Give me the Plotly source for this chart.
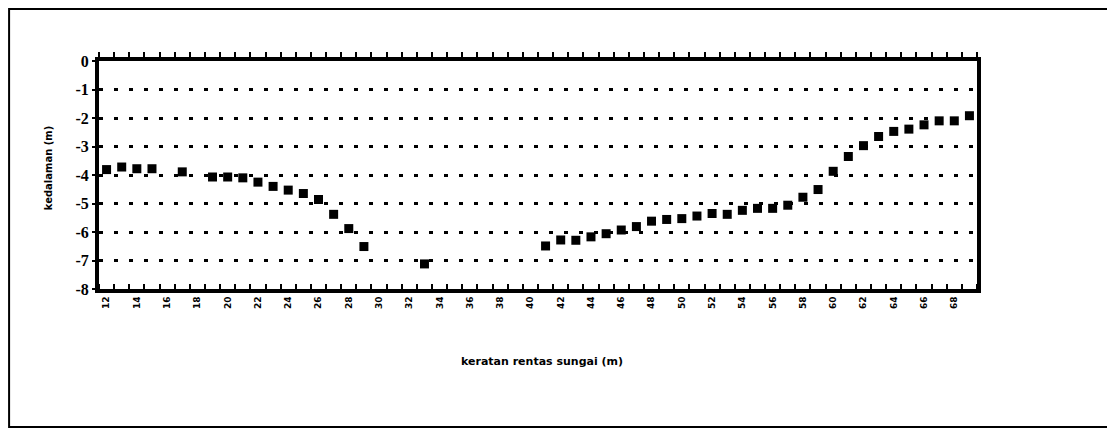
import plotly.graph_objects as go

# Cross-section distance (m) and depth (m)
jarak = [12, 13, 14, 15, 17, 19, 20, 21, 22, 23, 24, 25, 26, 27, 28, 29, 33,
         41, 42, 43, 44, 45, 46, 47, 48, 49, 50, 51, 52, 53, 54, 55, 56, 57,
         58, 59, 60, 61, 62, 63, 64, 65, 66, 67, 68, 69]
kedalaman = [-3.81, -3.72, -3.78, -3.78, -3.89, -4.07, -4.07, -4.10, -4.25, -4.40,
             -4.53, -4.65, -4.86, -5.38, -5.88, -6.51, -7.12,
             -6.49, -6.28, -6.29, -6.17, -6.06, -5.93, -5.81, -5.62, -5.56,
             -5.53, -5.44, -5.35, -5.38, -5.24, -5.17, -5.17, -5.06, -4.78,
             -4.51, -3.87, -3.35, -2.97, -2.65, -2.47, -2.39, -2.24, -2.10,
             -2.10, -1.92]

x_tick_vals = list(range(12, 70, 2))
x_tick_text = [str(v) for v in x_tick_vals]
y_tick_vals = [0, -1, -2, -3, -4, -5, -6, -7, -8]
y_tick_text = ["0", "-1", "-2", "-3", "-4", "-5", "-6", "-7", "-8"]
x_range = [11.5, 69.5]
minor_vals = [v + 0.5 for v in range(11, 70)]

fig = go.Figure()
fig.add_trace(go.Scatter(
    x=jarak, y=kedalaman, mode="markers",
    marker=dict(symbol="square", size=9, color="black"),
    showlegend=False, hoverinfo="x+y"))
fig.add_trace(go.Scatter(x=[], y=[], xaxis="x2", showlegend=False))

fig.update_layout(
    width=1115, height=433,
    margin=dict(l=91, r=146, t=53, b=152),
    paper_bgcolor="white", plot_bgcolor="white",
    xaxis=dict(
        range=x_range, tickmode="array", tickvals=x_tick_vals, ticktext=x_tick_text,
        ticks="", tickangle=-90,
        tickfont=dict(family="DejaVu Sans", size=9, color="black", weight="bold"),
        showgrid=False, zeroline=False,
        showline=True, linecolor="black", linewidth=4,
        minor=dict(tickmode="array", tickvals=minor_vals, ticks="inside",
                   ticklen=5, tickwidth=1.5, tickcolor="black", showgrid=False),
    ),
    xaxis2=dict(
        range=x_range, overlaying="x", side="top", anchor="y",
        tickmode="array", tickvals=minor_vals, ticktext=["" for _ in minor_vals],
        ticks="outside", ticklen=5, tickwidth=1.5, tickcolor="black",
        showgrid=False, zeroline=False,
        showline=True, linecolor="black", linewidth=4,
    ),
    yaxis=dict(
        range=[-8, 0], tickmode="array", tickvals=y_tick_vals, ticktext=y_tick_text,
        ticks="outside", ticklen=3, tickwidth=2, tickcolor="black",
        tickfont=dict(family="Liberation Serif", size=16, color="black", weight=700),
        showgrid=True, gridcolor="black", gridwidth=2.5, griddash="4px,11px",
        zeroline=False, showline=True, linecolor="black", linewidth=4,
        mirror=True,
    ),
    annotations=[
        dict(text="keratan rentas sungai (m)", xref="paper", yref="paper",
             x=0.504, y=-0.32, xanchor="center", yanchor="middle", showarrow=False,
             font=dict(family="DejaVu Sans", size=11, color="black", weight="bold")),
        dict(text="kedalaman (m)", xref="paper", yref="paper",
             x=-0.058, y=0.53, xanchor="center", yanchor="middle",
             textangle=-90, showarrow=False,
             font=dict(family="DejaVu Sans", size=10, color="black", weight="bold")),
    ],
    shapes=[
        dict(type="rect", xref="paper", yref="paper",
             x0=-0.1024, x1=1.150, y0=-0.605, y1=1.228,
             line=dict(color="black", width=2), layer="below"),
    ],
)

fig.write_html("out.html")
